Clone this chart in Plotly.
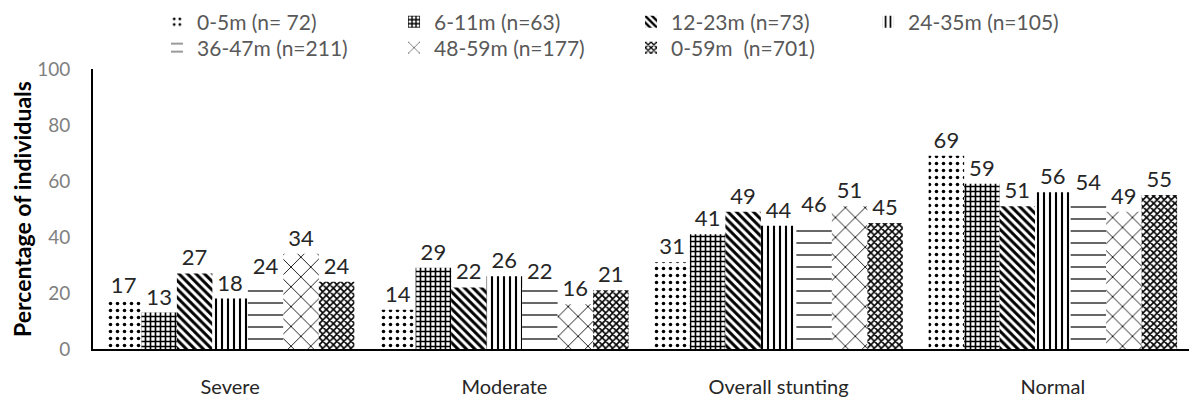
import plotly.graph_objects as go

categories = ["Severe", "Moderate", "Overall stunting", "Normal"]
series_names = ["0-5m (n= 72)", "6-11m (n=63)", "12-23m (n=73)", "24-35m (n=105)",
                "36-47m (n=211)", "48-59m (n=177)", "0-59m  (n=701)"]
values = [
    [17, 14, 31, 69],
    [13, 29, 41, 59],
    [27, 22, 49, 51],
    [18, 26, 44, 56],
    [24, 22, 46, 54],
    [34, 16, 51, 49],
    [24, 21, 45, 55],
]
patterns = [
    dict(shape=".", size=7, solidity=0.2),
    dict(shape="+", size=5, solidity=0.55),
    dict(shape="\\", size=6, solidity=0.5),
    dict(shape="|", size=6, solidity=0.35),
    dict(shape="-", size=12, solidity=0.1),
    dict(shape="x", size=14, solidity=0.12),
    dict(shape="x", size=5, solidity=0.55),
]
legend_ids = ["legend", "legend", "legend", "legend", "legend2", "legend2", "legend2"]

fig = go.Figure()
for name, vals, pat, lg in zip(series_names, values, patterns, legend_ids):
    fig.add_trace(go.Bar(
        x=categories, y=vals, name=name, legend=lg,
        text=[str(v) for v in vals], textposition="outside",
        textfont=dict(family="Lato, sans-serif", size=22, color="#262626"),
        cliponaxis=False,
        marker=dict(color="white", line=dict(width=0),
                    pattern=dict(shape=pat["shape"], size=pat["size"], solidity=pat["solidity"],
                                 fgcolor="black", bgcolor="white", fgopacity=1,
                                 fillmode="overlay")),
    ))

legend_common = dict(orientation="h", xref="container", yref="container",
                      xanchor="left", yanchor="middle",
                      entrywidth=192, entrywidthmode="pixels",
                      font=dict(size=21, color="#595959"), itemwidth=30,
                      bgcolor="rgba(0,0,0,0)")

fig.update_layout(
    width=1197, height=399,
    barmode="group", bargap=0.094, bargroupgap=0,
    plot_bgcolor="white", paper_bgcolor="white",
    margin=dict(l=85, r=15, t=61, b=58, autoexpand=False),
    font=dict(family="Lato, sans-serif"),
    showlegend=True,
    legend=dict(x=0.1245, y=1 - 14 / 399, **legend_common),
    legend2=dict(x=0.1245, y=1 - 40 / 399, **legend_common),
)
fig.update_xaxes(showline=True, linecolor="black", linewidth=2, ticks="",
                 ticklabelstandoff=19,
                 tickfont=dict(size=20, color="#262626"))
fig.update_yaxes(range=[0, 100], dtick=20, showgrid=False, zeroline=False,
                 showline=True, linecolor="black", linewidth=2,
                 ticklabelstandoff=17,
                 tickfont=dict(size=19, color="#808080"),
                 title=dict(text="<b>Percentage of individuals</b>",
                            font=dict(size=23, color="black"), standoff=6))

fig.write_html("out.html")
